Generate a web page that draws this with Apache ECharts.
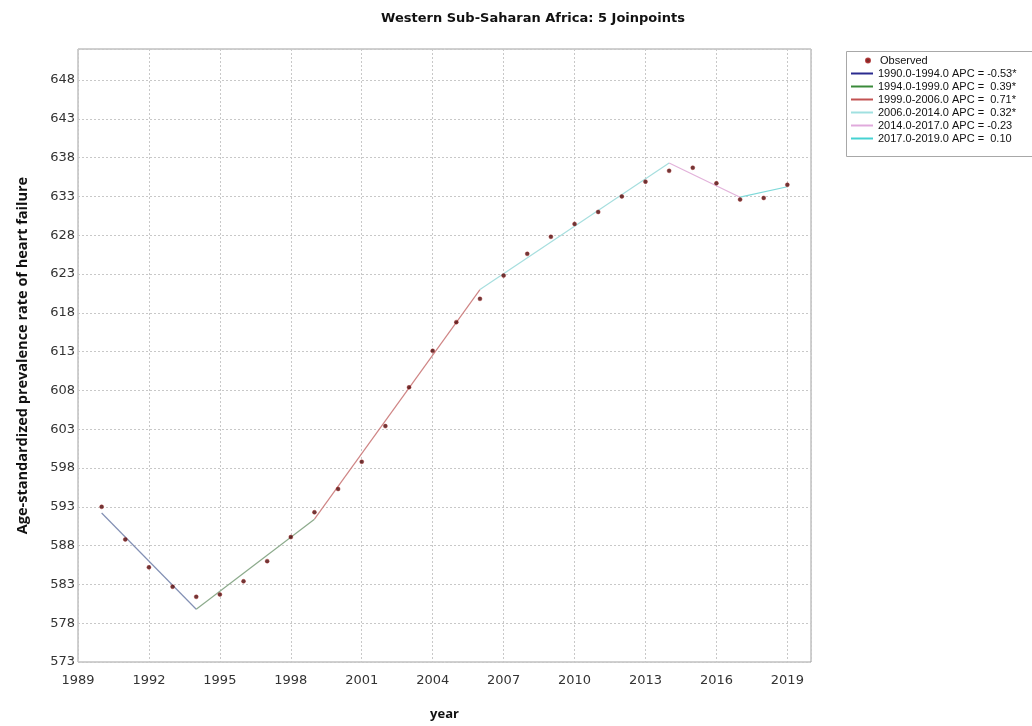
<!DOCTYPE html>
<html>
<head>
<meta charset="utf-8">
<script src="https://cdn.jsdelivr.net/npm/echarts@6/dist/echarts.min.js"></script>
<style>
html,body{margin:0;padding:0;background:#fff;}
#chart{width:1032px;height:726px;}
</style>
</head>
<body>
<div id="chart"></div>
<script>
// ---- data ----
const years = [1990,1991,1992,1993,1994,1995,1996,1997,1998,1999,2000,2001,2002,2003,2004,2005,2006,2007,2008,2009,2010,2011,2012,2013,2014,2015,2016,2017,2018,2019];
const observed = [593.0,588.8,585.2,582.7,581.4,581.7,583.4,586.0,589.1,592.3,595.3,598.8,603.4,608.4,613.1,616.8,619.8,622.8,625.6,627.8,629.45,631.0,633.0,634.9,636.3,636.7,634.7,632.6,632.8,634.5];
const joinYears = [1990,1994,1999,2006,2014,2017,2019];
const fitted = [592.2,579.8,591.4,621.0,637.3,632.9,634.25];
const segmentNames = [
  '1990.0-1994.0 APC = -0.53*',
  '1994.0-1999.0 APC =  0.39*',
  '1999.0-2006.0 APC =  0.71*',
  '2006.0-2014.0 APC =  0.32*',
  '2014.0-2017.0 APC = -0.23',
  '2017.0-2019.0 APC =  0.10'
];
const xTicks = [1989,1992,1995,1998,2001,2004,2007,2010,2013,2016,2019];
const yTicks = [573,578,583,588,593,598,603,608,613,618,623,628,633,638,643,648];

const plotColors = ['#8390b4','#8cab8c','#cf8585','#a6dede','#e2b2da','#7fd9d9'];
const legendColors = ['#2b2b8f','#3a8a3a','#c25252','#a0e0e0','#e0aadc','#46d2d2'];

const segSeries = segmentNames.map((name, i) => ({
  name: name,
  type: 'line',
  data: [[joinYears[i], fitted[i]], [joinYears[i+1], fitted[i+1]]],
  symbol: 'none',
  lineStyle: {color: plotColors[i], width: 1.2},
  itemStyle: {color: plotColors[i]},
  z: 2,
  animation: false
}));

const chart = echarts.init(document.getElementById('chart'), null, {renderer: 'canvas'});
const axisFont = {fontFamily: 'DejaVu Sans', fontSize: 13, color: '#333'};
chart.setOption({
  backgroundColor: '#fff',
  animation: false,
  title: {
    text: 'Western Sub-Saharan Africa: 5 Joinpoints',
    left: 528, top: 7, textAlign: 'center',
    textStyle: {fontFamily: 'DejaVu Sans', fontWeight: 'bold', fontSize: 13, color: '#111'}
  },
  graphic: [{
    type: 'rect', left: 844, top: 49,
    shape: {width: 200, height: 105},
    style: {fill: 'none', stroke: '#a8a8a8', lineWidth: 1}, silent: true
  }],
  legend: [{
    data: [{name: 'Observed', icon: 'circle'}],
    left: 865, top: 54, orient: 'vertical', padding: 0,
    itemWidth: 4, itemHeight: 4,
    textStyle: {fontFamily: 'Liberation Sans', fontSize: 11, lineHeight: 13, color: '#111', padding: [0,0,0,5]}
  }, {
    data: segmentNames.map((n, i) => ({name: n, icon: 'rect', itemStyle: {color: legendColors[i]}})),
    left: 851, top: 67, orient: 'vertical', padding: 0,
    itemWidth: 22, itemHeight: 2, itemGap: 0,
    textStyle: {fontFamily: 'Liberation Sans', fontSize: 11, lineHeight: 13, color: '#111'}
  }],
  grid: {left: 78, right: 221, top: 49, bottom: 63, show: true, borderColor: '#a0a0a0', borderWidth: 1},
  xAxis: {
    type: 'value', min: 1989, max: 2020, interval: 3,
    name: 'year', nameLocation: 'middle', nameGap: 46,
    nameTextStyle: {fontFamily: 'Open Sans', fontWeight: 'bold', fontSize: 13, color: '#111'},
    axisLine: {show: false}, axisTick: {show: false},
    axisLabel: Object.assign({margin: 12, showMaxLabel: false, formatter: v => xTicks.includes(v) ? String(v) : ''}, axisFont),
    splitLine: {show: true, lineStyle: {type: [2, 2], color: '#c8c8c8'}}
  },
  yAxis: {
    type: 'value', min: 573, max: 652, interval: 5,
    name: 'Age-standardized prevalence rate of heart failure', nameLocation: 'middle', nameGap: 48,
    nameTextStyle: {fontFamily: 'Open Sans', fontWeight: 'bold', fontSize: 14.5, color: '#111'},
    axisLine: {show: false}, axisTick: {show: false},
    axisLabel: Object.assign({margin: 3, showMaxLabel: false, formatter: v => yTicks.includes(v) ? String(v) : ''}, axisFont),
    splitLine: {show: true, lineStyle: {type: [2, 2], color: '#c8c8c8'}}
  },
  series: [{
    name: 'Observed', type: 'scatter',
    data: years.map((y, i) => [y, observed[i]]),
    symbol: 'circle', symbolSize: 4,
    itemStyle: {color: '#4a0606', borderColor: '#a01818', borderWidth: 0.5},
    z: 5
  }].concat(segSeries)
});
</script>
</body>
</html>
